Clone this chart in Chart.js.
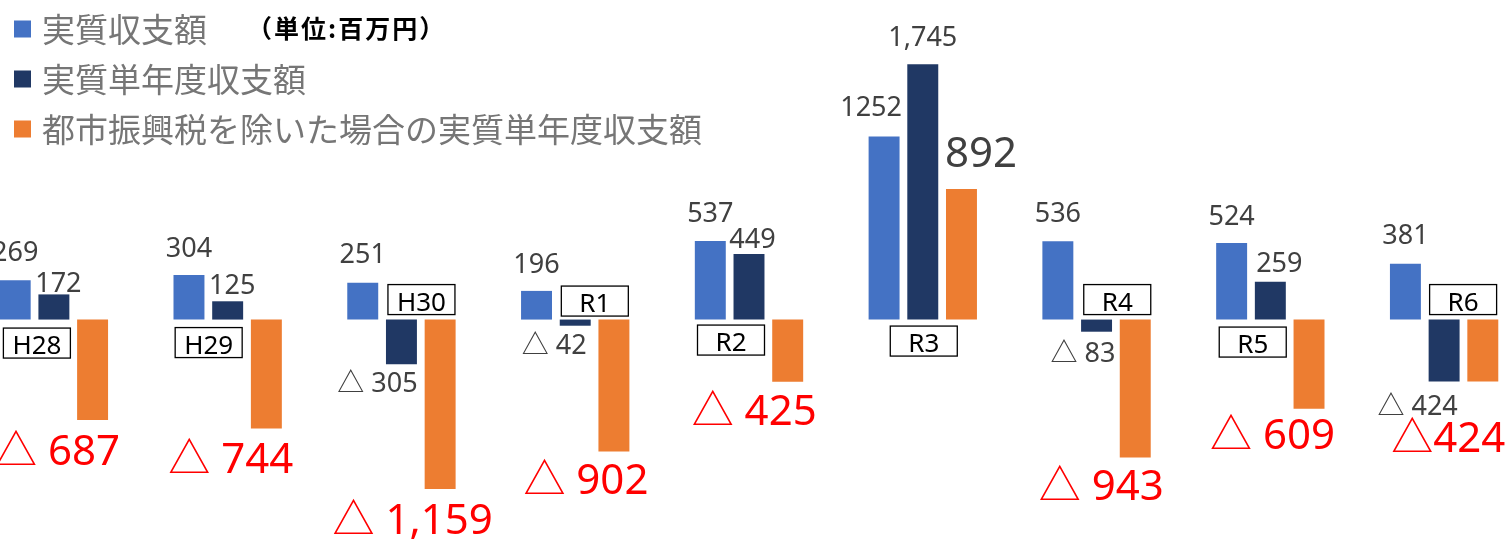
<!DOCTYPE html>
<html><head><meta charset="utf-8">
<script src="https://cdn.jsdelivr.net/npm/chart.js@4"></script>
<style>
html,body{margin:0;padding:0;background:#fff;overflow:hidden;width:1512px;height:541px}
#wrap{position:absolute;left:-33px;top:0;width:1564px;height:541px}
</style></head><body>
<div id="wrap"><canvas id="c" width="1564" height="541"></canvas></div>
<script>
// ---- data ----
const categories = ['H28','H29','H30','R1','R2','R3','R4','R5','R6'];
const seriesNames = ['実質収支額','実質単年度収支額','都市振興税を除いた場合の実質単年度収支額'];
const jisshitsuShushi = [269,304,251,196,537,1252,536,524,381];
const tannendoShushi = [172,125,-305,-42,449,1745,-83,259,-424];
const jogaiTannendo = [-687,-744,-1159,-902,-425,892,-943,-609,-424];
const unitLabel = '（単位:百万円）';
const yMin = -1500, yMax = 2000;

// ---- layout (label placement, not data) ----
const catBoxOffset = [[-17,23.5],[-19,23],[20,-20],[19.6,-18.5],[-18,20.5],[1,21.5],[20.7,-20],[-17.6,22.5],[19,-20]];
const labelOffsets = [
  [[0,-29],[0,-28],[0,-29],[0,-28],[0,-29],[-13,-30],[0,-29],[0,-28],[0,-29]],
  [[4.5,-12.3],[4.5,-17],[-24,18],[-21,18.7],[3.5,-16],[0,-28],[-13.5,21],[9,-19],[-26.5,24]],
  [[-35,30],[-35.5,30],[-27.5,30],[-28,27],[-33.5,28],[19.5,-37],[-34,27],[-36.5,25],[-34.5,55]]
];
const colors = ['#4472C4','#203864','#ED7D31'];
const FONT = '"Noto Sans", "Noto Sans CJK JP", sans-serif';
const CJK = '"Noto Sans CJK JP", "Noto Sans", sans-serif';

const labelPlugin = {
  id: 'customLabels',
  afterDatasetsDraw(chart) {
    const ctx = chart.ctx;
    const xs = chart.scales.x, ys = chart.scales.y;
    const y0 = ys.getPixelForValue(0);
    ctx.save();
    // category boxes
    categories.forEach((c, i) => {
      const cx = xs.getPixelForValue(i) + catBoxOffset[i][0];
      const cy = y0 + catBoxOffset[i][1];
      const w = 67, h = 30;
      ctx.fillStyle = '#fff';
      ctx.fillRect(cx - w/2, cy - h/2, w, h);
      ctx.strokeStyle = '#000';
      ctx.lineWidth = 1.3;
      ctx.strokeRect(cx - w/2, cy - h/2, w, h);
      ctx.fillStyle = '#000';
      ctx.font = '26px ' + FONT;
      ctx.textAlign = 'center';
      ctx.textBaseline = 'alphabetic';
      ctx.fillText(c, cx, cy + 11);
    });
    // value labels
    chart.data.datasets.forEach((ds, di) => {
      const meta = chart.getDatasetMeta(di);
      meta.data.forEach((bar, i) => {
        const v = ds.data[i];
        const [dx, dy] = labelOffsets[di][i];
        const cx = bar.x + dx, cy = bar.y + dy;
        const neg = v < 0, abs = Math.abs(v);
        const num = di === 0 ? String(abs) : abs.toLocaleString('en-US');
        const text = neg ? ('△' + (di === 2 && i === 8 ? '' : ' ') + num) : num;
        let size = 27, color = '#404040';
        if (di === 2) { size = neg ? 42 : 42; color = neg ? '#FF0000' : '#404040'; }
        ctx.font = size + 'px ' + FONT;
        ctx.fillStyle = color;
        ctx.textAlign = 'center';
        ctx.textBaseline = 'alphabetic';
        ctx.fillText(text, cx, cy + 0.357 * size);
      });
    });
    ctx.restore();
  },
  afterDraw(chart) {
    const ctx = chart.ctx;
    const ox = -chart.canvas.getBoundingClientRect().left;
    ctx.save();
    const rows = [29, 79, 129];
    chart.data.datasets.forEach((ds, di) => {
      const y = rows[di];
      ctx.fillStyle = ds.backgroundColor;
      ctx.fillRect(ox + 14, y - 8.5, 17, 17);
      ctx.fillStyle = '#767676';
      ctx.font = '33px ' + CJK;
      ctx.textAlign = 'left';
      ctx.textBaseline = 'middle';
      ctx.fillText(ds.label, ox + 42, y);
    });
    ctx.fillStyle = '#000';
    ctx.font = 'bold 25px ' + CJK;
    ctx.letterSpacing = '2px';
    ctx.textAlign = 'left';
    ctx.textBaseline = 'middle';
    ctx.fillText(unitLabel, ox + 247, 28);
    ctx.letterSpacing = '0px';
    ctx.restore();
  }
};

new Chart(document.getElementById('c'), {
  type: 'bar',
  data: {
    labels: categories,
    datasets: [
      { label: seriesNames[0], data: jisshitsuShushi, backgroundColor: colors[0], categoryPercentage: 0.668, barPercentage: 0.8 },
      { label: seriesNames[1], data: tannendoShushi, backgroundColor: colors[1], categoryPercentage: 0.668, barPercentage: 0.8 },
      { label: seriesNames[2], data: jogaiTannendo, backgroundColor: colors[2], categoryPercentage: 0.668, barPercentage: 0.8 }
    ]
  },
  options: {
    responsive: false,
    animation: false,
    devicePixelRatio: 1,
    layout: { padding: { top: 27, bottom: 2, left: 0, right: 0 } },
    plugins: { legend: { display: false }, tooltip: { enabled: false } },
    scales: {
      x: { display: false },
      y: { display: false, min: yMin, max: yMax }
    }
  },
  plugins: [labelPlugin]
});
</script>
</body></html>
